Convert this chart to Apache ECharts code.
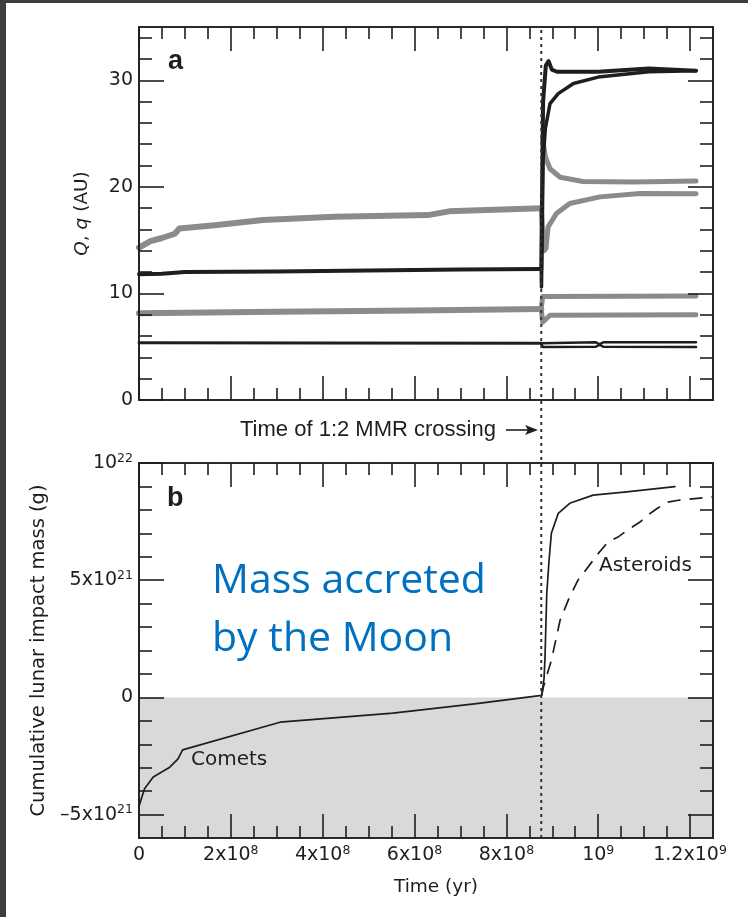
<!DOCTYPE html>
<html>
<head>
<meta charset="utf-8">
<script src="https://cdn.jsdelivr.net/npm/echarts@6/dist/echarts.min.js"></script>
<style>
  html, body { margin: 0; padding: 0; background: #ffffff; }
  #chart { position: absolute; left: 0; top: 0; width: 748px; height: 917px; }
  .edge { position: absolute; background: #3d3d3d; }
</style>
</head>
<body>
<div id="chart"></div>
<div class="edge" style="left:0;top:0;width:6px;height:917px"></div>
<div class="edge" style="left:0;top:0;width:748px;height:3px"></div>
<script>
// ---------- axis extents and ticks ----------
const timeMin = 0, timeMax = 1.25e9;           // yr
const distMin = 0, distMax = 35;                // AU
const massMin = -6e21, massMax = 1e22;          // g
const crossingTime = 8.76e8;                    // time of the 1:2 MMR crossing

const timeMajorTicks = [0, 2e8, 4e8, 6e8, 8e8, 1e9, 1.2e9];
const timeMinorTicks = [5e7, 1e8, 1.5e8, 2.5e8, 3e8, 3.5e8, 4.5e8, 5e8, 5.5e8, 6.5e8, 7e8, 7.5e8,
                        8.5e8, 9e8, 9.5e8, 1.05e9, 1.1e9, 1.15e9];
const timeTickText = ['0', '2x10{s|8}', '4x10{s|8}', '6x10{s|8}', '8x10{s|8}', '10{s|9}', '1.2x10{s|9}'];

const distMajorTicks = [0, 10, 20, 30];
const distMinorTicks = [2, 4, 6, 8, 12, 14, 16, 18, 22, 24, 26, 28, 32, 34];
const distTickText = ['0', '10', '20', '30'];

const massMajorTicks = [-5e21, 0, 5e21, 1e22];
const massMinorTicks = [-4e21, -3e21, -2e21, -1e21, 1e21, 2e21, 3e21, 4e21, 6e21, 7e21, 8e21, 9e21];
const massTickText = ['\u20135x10{s|21}', '0', '5x10{s|21}', '10{s|22}'];

// ---------- panel a: aphelion Q and perihelion q (AU) against time (yr) ----------
const jupiterBefore = [[0, 5.38], [4.0e8, 5.36], [8.76e8, 5.33]];
const jupiterQAfter = [[8.76e8, 5.33], [8.79e8, 5.45], [9.95e8, 5.42], [1.003e9, 5.22], [1.011e9, 5.42], [1.213e9, 5.42]];
const jupiterqAfter = [[8.76e8, 5.33], [8.79e8, 4.98], [9.95e8, 5.0], [1.003e9, 5.2], [1.011e9, 5.0], [1.213e9, 4.98]];

const saturnBefore = [[0, 8.15], [3e8, 8.28], [6e8, 8.4], [8.76e8, 8.55]];
const saturnQAfter = [[8.76e8, 8.55], [8.79e8, 9.72], [1.213e9, 9.75]];
const saturnqAfter = [[8.76e8, 8.55], [8.79e8, 7.3], [8.95e8, 7.95], [1.213e9, 8.0]];

const innerGiantBefore = [[0, 11.8], [0.5e8, 11.85], [1.0e8, 12.0], [3.0e8, 12.05], [5.0e8, 12.15], [7.0e8, 12.25], [8.76e8, 12.3]];
const innerGiantQAfter = [[8.76e8, 12.3], [8.8e8, 28.0], [8.86e8, 31.4], [8.92e8, 31.8], [8.99e8, 31.0], [9.1e8, 30.8],
                          [1.0e9, 30.8], [1.11e9, 31.1], [1.213e9, 30.9]];
const innerGiantqAfter = [[8.76e8, 12.3], [8.765e8, 10.6], [8.8e8, 22.5], [8.85e8, 25.5], [8.95e8, 27.8], [9.13e8, 28.75],
                          [9.46e8, 29.7], [1.0e9, 30.3], [1.11e9, 30.8], [1.213e9, 30.9]];

const outerGiantBefore = [[0, 14.3], [0.25e8, 14.9], [0.5e8, 15.2], [0.78e8, 15.6], [0.88e8, 16.1], [1.65e8, 16.4],
                          [2.7e8, 16.9], [4.25e8, 17.2], [6.3e8, 17.35], [6.75e8, 17.7], [7.4e8, 17.8], [8.76e8, 18.0]];
const outerGiantQAfter = [[8.79e8, 24.5], [8.85e8, 22.8], [8.95e8, 21.7], [9.17e8, 20.9], [9.67e8, 20.5], [1.076e9, 20.45], [1.213e9, 20.55]];
const outerGiantqAfter = [[8.76e8, 18.0], [8.82e8, 14.0], [8.86e8, 14.2], [8.91e8, 16.25], [9.09e8, 17.5], [9.38e8, 18.44],
                          [1.004e9, 19.06], [1.091e9, 19.38], [1.213e9, 19.35]];

// ---------- panel b: cumulative lunar impact mass (g) ----------
const cometMass = [[0, -4.65e21], [0.012e9, -3.9e21], [0.031e9, -3.4e21], [0.067e9, -2.98e21], [0.085e9, -2.62e21],
                   [0.095e9, -2.24e21], [0.307e9, -1.06e21], [0.553e9, -0.67e21], [0.735e9, -0.27e21], [0.877e9, 0.085e21],
                   [0.882e9, 0.8e21], [0.884e9, 1.6e21], [0.888e9, 4.43e21], [0.893e9, 5.85e21], [0.898e9, 7.0e21],
                   [0.913e9, 7.85e21], [0.938e9, 8.28e21], [0.989e9, 8.63e21], [1.062e9, 8.77e21], [1.167e9, 8.99e21]];
const asteroidMass = [[0.877e9, 0.085e21], [0.88e9, 0.4e21], [0.898e9, 1.58e21], [0.917e9, 3.29e21], [0.938e9, 4.3e21],
                      [0.956e9, 5.0e21], [0.986e9, 5.77e21], [0.997e9, 6.07e21], [1.021e9, 6.62e21], [1.043e9, 6.84e21],
                      [1.064e9, 7.14e21], [1.091e9, 7.48e21], [1.108e9, 7.78e21], [1.13e9, 8.08e21], [1.15e9, 8.33e21],
                      [1.178e9, 8.42e21], [1.235e9, 8.53e21], [1.25e9, 8.55e21]];

// ---------- styling ----------
const INK = '#1e1e1e';
const GRAY = '#8b8b8b';
const FONT = 'DejaVu Sans';
const BLUE = '#0070C0';

function pickText(ticks, texts) {
  return function (v) {
    const i = ticks.findIndex(t => Math.abs(t - v) <= Math.abs(t) * 1e-9 + 1e-12);
    return i < 0 ? '' : texts[i];
  };
}

const supRich = {
  s: { fontSize: 12.5, fontFamily: FONT, color: INK, verticalAlign: 'top', lineHeight: 12 }
};

function labelCfg(ticks, texts, margin) {
  return {
    show: true, customValues: ticks, formatter: pickText(ticks, texts), margin: margin,
    color: INK, fontFamily: FONT, fontSize: 19, lineHeight: 22, rich: supRich
  };
}

function frameAxis(gridIndex, position, min, max, ticks, len, label, extra) {
  return Object.assign({
    type: 'value', gridIndex: gridIndex, position: position, min: min, max: max, z: 10,
    axisLine: { show: true, onZero: false, lineStyle: { color: INK, width: 1.6 } },
    axisTick: { show: true, inside: true, length: len, customValues: ticks, lineStyle: { color: INK, width: 1.6 } },
    axisLabel: label || { show: false },
    splitLine: { show: false },
    minorTick: { show: false }
  }, extra || {});
}

const hiddenAxis = (gridIndex, min, max) => ({
  type: 'value', gridIndex: gridIndex, min: min, max: max, show: false,
  axisLine: { show: false, onZero: false }, axisTick: { show: false }, axisLabel: { show: false }, splitLine: { show: false }
});

function lineSeries(name, data, color, width, xi, yi, extra) {
  return Object.assign({
    name: name, type: 'line', data: data, xAxisIndex: xi, yAxisIndex: yi,
    showSymbol: false, symbol: 'none', smooth: false, z: 4, silent: true, animation: false,
    lineStyle: { color: color, width: width, cap: 'round', join: 'round' }
  }, extra || {});
}

const nameStyle = (size) => ({
  fontFamily: FONT, fontSize: size, color: INK,
  rich: { i: { fontFamily: FONT, fontSize: size, color: INK, fontStyle: 'italic' } }
});

function note(x, y, text, font, color) {
  return { type: 'text', x: x, y: y, z: 100, silent: true,
           style: { text: text, font: font, fill: color || INK, align: 'left', verticalAlign: 'middle' } };
}

const option = {
  animation: false,
  backgroundColor: 'transparent',
  grid: [
    { left: 139, top: 27, width: 574, height: 373 },
    { left: 139, top: 463, width: 574, height: 375 },
    { left: 139, top: 27, width: 574, height: 811 }
  ],
  xAxis: [
    frameAxis(0, 'bottom', timeMin, timeMax, timeMajorTicks, 24),
    frameAxis(0, 'top', timeMin, timeMax, timeMajorTicks, 24),
    frameAxis(0, 'bottom', timeMin, timeMax, timeMinorTicks, 12),
    frameAxis(0, 'top', timeMin, timeMax, timeMinorTicks, 12),
    frameAxis(1, 'bottom', timeMin, timeMax, timeMajorTicks, 24, labelCfg(timeMajorTicks, timeTickText, 6), {
      name: 'Time (yr)', nameLocation: 'middle', nameGap: 40,
      nameTextStyle: Object.assign(nameStyle(18.5), { padding: [0, 0, 0, 20] })
    }),
    frameAxis(1, 'top', timeMin, timeMax, timeMajorTicks, 24),
    frameAxis(1, 'bottom', timeMin, timeMax, timeMinorTicks, 12),
    frameAxis(1, 'top', timeMin, timeMax, timeMinorTicks, 12),
    hiddenAxis(2, timeMin, timeMax)
  ],
  yAxis: [
    frameAxis(0, 'left', distMin, distMax, distMajorTicks, 25, labelCfg(distMajorTicks, distTickText, 6), {
      name: '{i|Q}, {i|q} (AU)', nameLocation: 'middle', nameGap: 47, nameRotate: 90,
      nameTextStyle: nameStyle(18.5)
    }),
    frameAxis(0, 'right', distMin, distMax, distMajorTicks, 25),
    frameAxis(0, 'left', distMin, distMax, distMinorTicks, 13),
    frameAxis(0, 'right', distMin, distMax, distMinorTicks, 13),
    frameAxis(1, 'left', massMin, massMax, massMajorTicks, 25, labelCfg(massMajorTicks, massTickText, 6), {
      name: 'Cumulative lunar impact mass (g)', nameLocation: 'middle', nameGap: 86, nameRotate: 90,
      nameTextStyle: nameStyle(19.5)
    }),
    frameAxis(1, 'right', massMin, massMax, massMajorTicks, 25),
    frameAxis(1, 'left', massMin, massMax, massMinorTicks, 13),
    frameAxis(1, 'right', massMin, massMax, massMinorTicks, 13),
    hiddenAxis(2, 0, 1)
  ],
  series: [
    // panel a — grey orbits first, black drawn over them
    lineSeries('Saturn', saturnBefore, GRAY, 6, 0, 0),
    lineSeries('Saturn Q', saturnQAfter, GRAY, 5, 0, 0),
    lineSeries('Saturn q', saturnqAfter, GRAY, 5, 0, 0),
    lineSeries('Outer ice giant', outerGiantBefore, GRAY, 6, 0, 0),
    lineSeries('Outer ice giant Q', outerGiantQAfter, GRAY, 5, 0, 0),
    lineSeries('Outer ice giant q', outerGiantqAfter, GRAY, 5, 0, 0),
    lineSeries('Jupiter', jupiterBefore, INK, 3, 0, 0),
    lineSeries('Jupiter Q', jupiterQAfter, INK, 2.5, 0, 0),
    lineSeries('Jupiter q', jupiterqAfter, INK, 2.5, 0, 0),
    lineSeries('Inner ice giant', innerGiantBefore, INK, 4, 0, 0),
    lineSeries('Inner ice giant Q', innerGiantQAfter, INK, 4, 0, 0),
    lineSeries('Inner ice giant q', innerGiantqAfter, INK, 3.5, 0, 0),
    // panel b — shaded region below zero
    {
      type: 'line', data: [], xAxisIndex: 4, yAxisIndex: 4, z: 1, silent: true,
      markArea: { silent: true, itemStyle: { color: '#d9d9d9' }, data: [[{ yAxis: massMin }, { yAxis: 0 }]] }
    },
    lineSeries('Comets', cometMass, INK, 1.7, 4, 4),
    lineSeries('Asteroids', asteroidMass, INK, 1.7, 4, 4, {
      lineStyle: { color: INK, width: 1.7, type: [13, 9], cap: 'butt' }
    }),
    // vertical dotted marker through both panels
    lineSeries('MMR crossing', [[crossingTime, 0], [crossingTime, 1]], INK, 2, 8, 8, {
      z: 6, lineStyle: { color: '#333', width: 2, type: [3, 4], cap: 'butt' }
    })
  ],
  graphic: [
    note(168, 62, 'a', 'bold 27px "Liberation Sans"'),
    note(167, 499, 'b', 'bold 27px "Liberation Sans"'),
    note(240, 430, 'Time of 1:2 MMR crossing', '22px "Liberation Sans"'),
    { type: 'line', z: 100, silent: true, shape: { x1: 506, y1: 430, x2: 531, y2: 430 }, style: { stroke: INK, lineWidth: 1.6 } },
    { type: 'polygon', z: 100, silent: true, shape: { points: [[525, 425], [538, 430], [525, 435], [528, 430]] }, style: { fill: INK } },
    note(191, 760, 'Comets', '20px "DejaVu Sans"'),
    note(599, 566, 'Asteroids', '20px "DejaVu Sans"'),
    note(212, 581, 'Mass accreted', '41px "Open Sans"', BLUE),
    note(212, 639, 'by the Moon', '41px "Open Sans"', BLUE)
  ]
};

const chart = echarts.init(document.getElementById('chart'), null, { renderer: 'canvas' });
chart.setOption(option);
</script>
</body>
</html>
